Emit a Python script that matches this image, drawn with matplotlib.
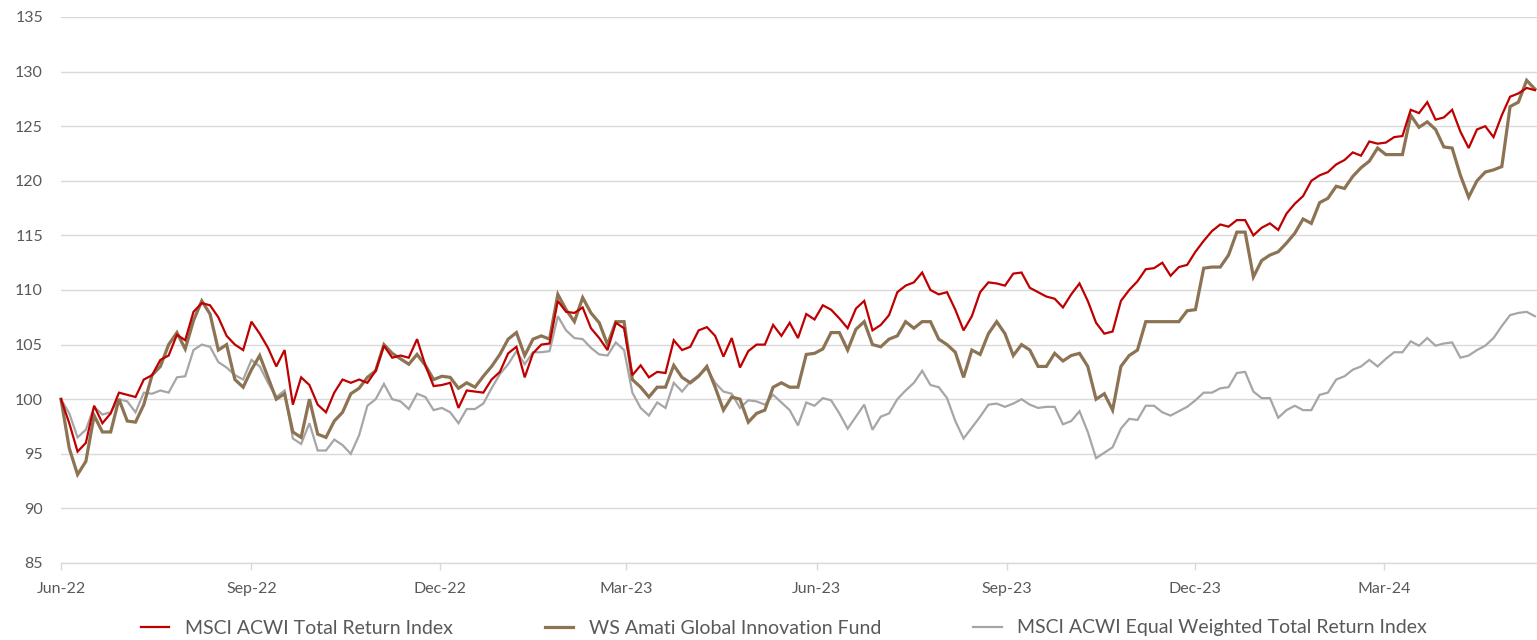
import matplotlib
matplotlib.use("Agg")
import matplotlib.pyplot as plt
import matplotlib.dates as mdates
import numpy as np
import pandas as pd

start_date = "2022-06-01"
step_days = 4

msci_acwi = [
    100.0, 97.8, 95.2, 96.0, 99.4, 97.8, 98.7, 100.6, 100.4, 100.2,
    101.8, 102.2, 103.6, 104.0, 105.9, 105.4, 108.0, 108.8, 108.6, 107.5,
    105.8, 105.0, 104.5, 107.1, 106.0, 104.7, 103.0, 104.5, 99.5, 102.0,
    101.3, 99.5, 98.8, 100.6, 101.8, 101.5, 101.8, 101.5, 102.6, 104.9,
    103.8, 104.0, 103.8, 105.5, 103.1, 101.2, 101.3, 101.5, 99.2, 100.8,
    100.7, 100.6, 101.8, 102.5, 104.2, 104.8, 102.0, 104.2, 105.0, 105.1,
    109.0, 108.0, 107.9, 108.4, 106.5, 105.6, 104.5, 107.0, 106.5, 102.2,
    103.1, 102.0, 102.5, 102.4, 105.4, 104.5, 104.8, 106.3, 106.6, 105.8,
    103.9, 105.6, 102.9, 104.4, 105.0, 105.0, 106.8, 105.8, 107.0, 105.6,
    107.8, 107.3, 108.6, 108.2, 107.4, 106.5, 108.3, 109.0, 106.3, 106.8,
    107.7, 109.8, 110.4, 110.7, 111.6, 110.0, 109.6, 109.8, 108.2, 106.3,
    107.6, 109.8, 110.7, 110.6, 110.4, 111.5, 111.6, 110.2, 109.8, 109.4,
    109.2, 108.4, 109.6, 110.6, 109.0, 107.0, 106.0, 106.2, 109.0, 110.0,
    110.8, 111.9, 112.0, 112.5, 111.3, 112.1, 112.3, 113.5, 114.5, 115.4,
    116.0, 115.8, 116.4, 116.4, 115.0, 115.7, 116.1, 115.5, 117.0, 117.9,
    118.6, 120.0, 120.5, 120.8, 121.5, 121.9, 122.6, 122.3, 123.6, 123.4,
    123.5, 124.0, 124.1, 126.5, 126.2, 127.2, 125.6, 125.8, 126.5, 124.5,
    123.0, 124.7, 125.0, 124.0, 126.0, 127.7, 128.0, 128.5, 128.3,
]

ws_amati = [
    100.0, 95.5, 93.1, 94.3, 98.5, 97.0, 97.0, 100.0, 98.0, 97.9,
    99.5, 102.2, 103.0, 105.0, 106.1, 104.6, 107.2, 109.0, 107.8, 104.5,
    105.0, 101.8, 101.1, 102.7, 104.0, 102.0, 100.0, 100.5, 97.0, 96.5,
    100.0, 96.8, 96.5, 98.0, 98.8, 100.5, 101.0, 102.0, 102.6, 105.0,
    104.2, 103.7, 103.2, 104.1, 103.1, 101.8, 102.1, 102.0, 101.0, 101.5,
    101.1, 102.1, 103.0, 104.1, 105.5, 106.1, 104.0, 105.5, 105.8, 105.5,
    109.6, 108.2, 107.1, 109.3, 107.9, 107.0, 105.0, 107.1, 107.1, 101.8,
    101.1, 100.2, 101.1, 101.1, 103.1, 102.0, 101.5, 102.1, 103.0, 101.1,
    99.0, 100.2, 100.0, 97.9, 98.7, 99.0, 101.1, 101.5, 101.1, 101.1,
    104.1, 104.2, 104.6, 106.1, 106.1, 104.5, 106.4, 107.1, 105.0, 104.8,
    105.5, 105.8, 107.1, 106.5, 107.1, 107.1, 105.5, 105.0, 104.3, 102.0,
    104.5, 104.1, 106.0, 107.1, 106.0, 104.0, 105.0, 104.5, 103.0, 103.0,
    104.2, 103.5, 104.0, 104.2, 103.0, 100.0, 100.5, 99.0, 103.0, 104.0,
    104.5, 107.1, 107.1, 107.1, 107.1, 107.1, 108.1, 108.2, 112.0, 112.1,
    112.1, 113.2, 115.3, 115.3, 111.2, 112.7, 113.2, 113.5, 114.3, 115.2,
    116.5, 116.1, 118.0, 118.4, 119.5, 119.3, 120.4, 121.2, 121.8, 123.0,
    122.4, 122.4, 122.4, 126.0, 124.9, 125.4, 124.7, 123.1, 123.0, 120.5,
    118.5, 120.0, 120.8, 121.0, 121.3, 126.8, 127.2, 129.2, 128.4,
]

msci_acwi_ew = [
    100.0, 98.7, 96.5, 97.2, 99.3, 98.6, 98.8, 100.0, 99.8, 98.8,
    100.6, 100.5, 100.8, 100.6, 102.0, 102.1, 104.5, 105.0, 104.8, 103.4,
    102.9, 102.2, 101.8, 103.6, 103.0, 101.5, 100.2, 100.8, 96.4, 95.9,
    97.8, 95.3, 95.3, 96.3, 95.8, 95.0, 96.7, 99.4, 100.0, 101.4,
    100.0, 99.8, 99.1, 100.5, 100.2, 99.0, 99.2, 98.8, 97.8, 99.1,
    99.1, 99.6, 101.0, 102.3, 103.2, 104.4, 103.2, 104.3, 104.3, 104.4,
    107.6, 106.3, 105.6, 105.5, 104.7, 104.1, 104.0, 105.2, 104.5, 100.6,
    99.2, 98.5, 99.7, 99.2, 101.5, 100.7, 101.6, 102.2, 102.8, 101.5,
    100.7, 100.5, 99.2, 99.9, 99.8, 99.5, 100.4, 99.7, 99.0, 97.6,
    99.7, 99.4, 100.1, 99.9, 98.7, 97.3, 98.4, 99.5, 97.2, 98.4,
    98.7, 100.0, 100.8, 101.5, 102.6, 101.3, 101.1, 100.1, 98.0, 96.4,
    97.4, 98.4, 99.5, 99.6, 99.3, 99.6, 100.0, 99.5, 99.2, 99.3,
    99.3, 97.7, 98.0, 98.9, 97.0, 94.6, 95.1, 95.6, 97.3, 98.2,
    98.1, 99.4, 99.4, 98.8, 98.5, 98.9, 99.3, 99.9, 100.6, 100.6,
    101.0, 101.1, 102.4, 102.5, 100.7, 100.1, 100.1, 98.3, 99.0, 99.4,
    99.0, 99.0, 100.4, 100.6, 101.8, 102.1, 102.7, 103.0, 103.6, 103.0,
    103.7, 104.3, 104.3, 105.3, 104.9, 105.6, 104.9, 105.1, 105.2, 103.8,
    104.0, 104.5, 104.9, 105.6, 106.7, 107.7, 107.9, 108.0, 107.6,
]

series_names = [
    "MSCI ACWI Total Return Index",
    "WS Amati Global Innovation Fund",
    "MSCI ACWI Equal Weighted Total Return Index",
]
series_colors = ["#C00000", "#8C7353", "#A6A6A6"]
series_widths = [1.6, 2.3, 1.6]

y_ticks = list(range(85, 136, 5))
x_tick_dates = ["2022-06-01", "2022-09-01", "2022-12-01", "2023-03-01",
                "2023-06-01", "2023-09-01", "2023-12-01", "2024-03-01"]
x_end_date = "2024-05-14"

# ---- plotting ----
plt.rcParams["font.family"] = ["Lato", "DejaVu Sans"]

dates = pd.date_range(start_date, periods=len(msci_acwi), freq=f"{step_days}D")

fig = plt.figure(figsize=(15.37, 6.40), dpi=100)
ax = fig.add_axes([61 / 1537, 1 - 563 / 640, 1 - 61 / 1537, (563 - 17) / 640])

order = [2, 1, 0]
all_series = [msci_acwi, ws_amati, msci_acwi_ew]
lines = {}
for i in order:
    (ln,) = ax.plot(dates, all_series[i], color=series_colors[i],
                    lw=series_widths[i], label=series_names[i],
                    solid_joinstyle="miter", clip_on=False, zorder=3 + (2 - i))
    lines[i] = ln

ax.set_ylim(85, 135)
ax.set_yticks(y_ticks)
ax.set_xlim(pd.Timestamp(start_date), pd.Timestamp(x_end_date))
ax.set_xticks(pd.to_datetime(x_tick_dates))
ax.xaxis.set_major_formatter(mdates.DateFormatter("%b-%y"))

ax.grid(axis="y", color="#D9D9D9", lw=1.0)
ax.set_axisbelow(True)
for s in ["top", "right", "left"]:
    ax.spines[s].set_visible(False)
ax.spines["bottom"].set_color("#D9D9D9")
ax.spines["bottom"].set_linewidth(1.0)

ax.tick_params(axis="y", length=0, pad=13, labelsize=11.5, labelcolor="#595959")
ax.tick_params(axis="x", length=5, width=1, color="#D9D9D9", direction="out",
               pad=9, labelsize=11.5, labelcolor="#595959")

handles = [lines[0], lines[1], lines[2]]
leg = fig.legend(handles, series_names, loc="center", ncol=3,
                 bbox_to_anchor=(784 / 1537, 1 - 628 / 640), frameon=False,
                 fontsize=14, handlelength=1.45, handletextpad=0.8,
                 columnspacing=4.75)
for t in leg.get_texts():
    t.set_color("#595959")

fig.savefig("out.png", dpi=100)
